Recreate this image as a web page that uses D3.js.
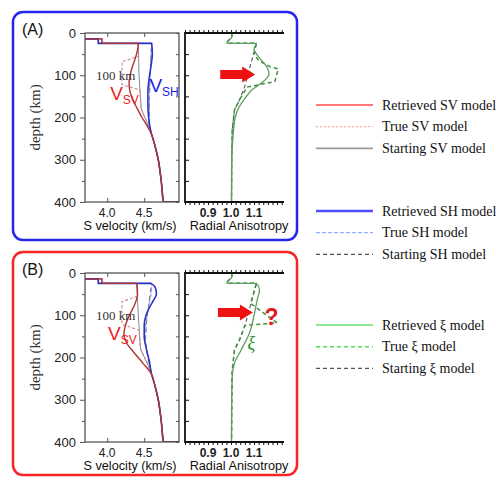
<!DOCTYPE html>
<html>
<head>
<meta charset="utf-8">
<script src="https://cdn.jsdelivr.net/npm/d3@7"></script>
<style>
  body { margin: 0; background: #fff; }
  text { font-family: "Liberation Sans", Arial, sans-serif; }
  .serif { font-family: "Liberation Serif", "Times New Roman", serif; }
</style>
</head>
<body>
<div id="chart"></div>
<script>
// Depth (km) / value pairs
const crustSV = [[0, 3.5], [14, 3.5], [14, 3.93], [24.5, 3.93]];
const crustSH = [[0, 3.5], [14, 3.5], [14, 3.88], [24.5, 3.88]];
const deepVs = [[260, 4.635], [300, 4.69], [350, 4.73], [400, 4.76], [400, 5.1]];
const crustXi = [[0, 1.003], [10, 1.003], [20, 0.985], [24.5, 0.983]];
const deepXi = [[300, 1.003], [400, 1.002]];

// Panel A: Vs models
const svRetrievedA = [[24.5, 4.42], [40, 4.41], [60, 4.38], [80, 4.34], [100, 4.31], [120, 4.295], [140, 4.31], [160, 4.35], [180, 4.41], [200, 4.47], [220, 4.54], [240, 4.6]];
const svTrueA = [[24.5, 4.42], [55, 4.425], [68, 4.2], [122, 4.2], [135, 4.44], [180, 4.46], [215, 4.545], [240, 4.6]];
const svStartA = [[24.5, 4.42], [100, 4.43], [180, 4.46], [215, 4.545], [240, 4.6]];
const shRetrievedA = [[24.5, 4.6], [50, 4.61], [80, 4.59], [110, 4.565], [140, 4.55], [170, 4.55], [200, 4.56], [225, 4.58], [240, 4.6]];
const shTrueA = [[24.5, 4.6], [120, 4.575], [215, 4.565], [240, 4.6]];
const shStartA = [[24.5, 4.6], [120, 4.575], [215, 4.565], [240, 4.6]];
// Panel A: radial anisotropy
const xiRetrievedA = [[24.5, 1.11], [38, 1.1], [60, 1.125], [80, 1.155], [97, 1.165], [115, 1.14], [135, 1.09], [155, 1.06], [175, 1.035], [200, 1.018], [250, 1.008]];
const xiTrueA = [[24.5, 1.11], [50, 1.1], [65, 1.12], [80, 1.17], [85, 1.205], [115, 1.19], [128, 1.07], [158, 1.037], [182, 1.015], [230, 1.005]];
const xiStartA = [[24.5, 1.11], [127, 1.059], [158, 1.037], [182, 1.015], [230, 1.005]];

// Panel B: Vs models
const svRetrievedB = [[24.5, 4.4], [50, 4.41], [75, 4.37], [100, 4.3], [125, 4.245], [145, 4.225], [165, 4.26], [190, 4.37], [215, 4.49], [240, 4.6]];
const svTrueB = [[24.5, 4.4], [55, 4.41], [68, 4.2], [122, 4.2], [135, 4.43], [180, 4.45], [215, 4.545], [240, 4.6]];
const svStartB = [[24.5, 4.4], [100, 4.42], [180, 4.45], [215, 4.545], [240, 4.6]];
const shRetrievedB = [[24.5, 4.59], [35, 4.65], [50, 4.665], [65, 4.625], [80, 4.575], [100, 4.525], [125, 4.5], [150, 4.5], [180, 4.53], [210, 4.57], [240, 4.6]];
const shTrueB = [[24.5, 4.6], [45, 4.6], [80, 4.56], [120, 4.52], [160, 4.51], [200, 4.55], [240, 4.6]];
const shStartB = [[24.5, 4.6], [110, 4.535], [160, 4.515], [200, 4.55], [240, 4.6]];
// Panel B: radial anisotropy
const xiRetrievedB = [[24.5, 1.11], [40, 1.124], [60, 1.115], [95, 1.102], [142, 1.08], [182, 1.044], [213, 1.015], [246, 1.005]];
const xiTrueB = [[24.5, 1.11], [72, 1.085], [118, 1.2], [124, 1.06], [158, 1.037], [182, 1.015], [230, 1.005]];
const xiStartB = [[24.5, 1.11], [127, 1.059], [158, 1.037], [182, 1.015], [230, 1.005]];

// Tick labels
const depthTicks = [0, 100, 200, 300, 400];
const depthMinor = [50, 150, 250, 350];
const velTicks = [4.0, 4.5];
const aniTicks = [0.9, 1.0, 1.1];

// Legend
const legendLabels = ["Retrieved SV model", "True SV model", "Starting SV model",
  "Retrieved SH model", "True SH model", "Starting SH model",
  "Retrieved \u03be model", "True \u03be model", "Starting \u03be model"];
const legendColors = ["#ff4a4a", "#ffaaaa", "#9a9a9a", "#4e4eff", "#8fb0ff", "#555", "#6ee06e", "#55dd55", "#555"];
const legendDash = [null, "2,2", null, null, "4,2", "4,3", null, "4,3", "4,3"];
const legendWidth = [1.3, 1.2, 1.6, 2.5, 1.2, 1.1, 1.3, 1.6, 1.1];

const width = 496, height = 480;
const svg = d3.select("#chart").append("svg")
  .attr("width", width).attr("height", height)
  .style("background", "#fff");

// scales shared by both panels
const y = d3.scaleLinear().domain([0, 400]).range([33, 202]);
const xv = d3.scaleLinear().domain([3.7, 4.97]).range([85, 179]);
const xa = d3.scaleLinear().domain([0.8, 1.23]).range([185, 284]);

const smooth = d3.curveMonotoneY;
const lineV = (c) => d3.line().x(d => xv(d[1])).y(d => y(d[0])).curve(c);
const lineA = (c) => d3.line().x(d => xa(d[1])).y(d => y(d[0])).curve(c);

const panels = [
  { label: "(A)", dy: 0, box: "#2525f0", boxH: 228,
    svRet: svRetrievedA, svTrue: svTrueA, svStart: svStartA,
    shRet: shRetrievedA, shTrue: shTrueA, shStart: shStartA,
    xiRet: xiRetrievedA, xiTrue: xiTrueA, xiStart: xiStartA },
  { label: "(B)", dy: 240, box: "#f52525", boxH: 223,
    svRet: svRetrievedB, svTrue: svTrueB, svStart: svStartB,
    shRet: shRetrievedB, shTrue: shTrueB, shStart: shStartB,
    xiRet: xiRetrievedB, xiTrue: xiTrueB, xiStart: xiStartB }
];

panels.forEach(function (p, i) {
  const g = svg.append("g").attr("transform", `translate(0,${p.dy})`);

  // rounded panel box
  g.append("rect")
    .attr("x", 13).attr("y", 12).attr("width", 284).attr("height", p.boxH)
    .attr("rx", 10).attr("fill", "none")
    .attr("stroke", p.box).attr("stroke-width", 2.5);

  g.append("text").attr("x", 22).attr("y", 35)
    .attr("font-size", 16).attr("fill", "#111").text(p.label);

  // clip paths
  svg.append("clipPath").attr("id", "clipV" + i).append("rect")
    .attr("x", xv.range()[0]).attr("y", y(0)).attr("width", xv.range()[1] - xv.range()[0]).attr("height", y(400) - y(0));
  svg.append("clipPath").attr("id", "clipA" + i).append("rect")
    .attr("x", xa.range()[0]).attr("y", y(0)).attr("width", xa.range()[1] - xa.range()[0]).attr("height", y(400) - y(0));

  // ---- velocity plot ----
  const gv = g.append("g").attr("clip-path", `url(#clipV${i})`);
  const vSeries = [
    { d: crustSH.concat(p.shStart, deepVs), c: "#666", w: 1, dash: "5,3", curve: d3.curveLinear },
    { d: crustSV.concat(p.svStart, deepVs), c: "#8a8a8a", w: 1, dash: null, curve: d3.curveLinear },
    { d: crustSH.concat(p.shTrue, deepVs), c: "#7a98e6", w: 1, dash: "4,2", curve: d3.curveLinear },
    { d: crustSV.concat(p.svTrue, deepVs), c: "#c98a8a", w: 1.1, dash: "3,2", curve: d3.curveLinear },
    { d: crustSH.concat(p.shRet, deepVs), c: "#2a32c8", w: 1.6, dash: null, curve: smooth },
    { d: crustSV.concat(p.svRet, deepVs), c: "#b2332d", w: 1.4, dash: null, curve: smooth }
  ];
  vSeries.forEach(function (s) {
    gv.append("path").datum(s.d)
      .attr("d", lineV(s.curve))
      .attr("fill", "none").attr("stroke", s.c)
      .attr("stroke-width", s.w).attr("stroke-dasharray", s.dash);
  });

  g.append("rect")
    .attr("x", xv.range()[0]).attr("y", y(0))
    .attr("width", xv.range()[1] - xv.range()[0]).attr("height", y(400) - y(0))
    .attr("fill", "none").attr("stroke", "#555").attr("stroke-width", 1.3);

  // depth axis
  const ax = g.append("g").attr("transform", `translate(${xv.range()[0]},0)`)
    .call(d3.axisLeft(y).tickValues(depthTicks).tickSize(5).tickPadding(4).tickFormat(d3.format("d")));
  ax.select(".domain").remove();
  ax.selectAll("line").attr("stroke", "#555");
  ax.selectAll("text").attr("font-size", 13).attr("fill", "#222")
    .attr("font-family", '"Liberation Sans", Arial, sans-serif');
  g.append("g").attr("transform", `translate(${xv.range()[0]},0)`)
    .call(d3.axisLeft(y).tickValues(depthMinor).tickSize(3).tickFormat(""))
    .call(a => a.select(".domain").remove())
    .selectAll("line").attr("stroke", "#555");

  // inward ticks on right edge of velocity plot
  g.append("g").attr("transform", `translate(${xv.range()[1]},0)`)
    .call(d3.axisRight(y).tickValues(depthTicks.concat(depthMinor)).tickSize(-3).tickFormat(""))
    .call(a => a.select(".domain").remove())
    .selectAll("line").attr("stroke", "#555");
  // inward ticks on top and bottom
  g.append("g").attr("transform", `translate(0,${y(0)})`)
    .call(d3.axisTop(xv).tickValues(velTicks).tickSize(-4).tickFormat(""))
    .call(a => a.select(".domain").remove())
    .selectAll("line").attr("stroke", "#555");
  g.append("g").attr("transform", `translate(0,${y(400)})`)
    .call(d3.axisBottom(xv).tickValues(velTicks).tickSize(-4).tickFormat(""))
    .call(a => a.select(".domain").remove())
    .selectAll("line").attr("stroke", "#555");

  g.selectAll(".vtick").data(velTicks).enter().append("text")
    .attr("x", d => xv(d)).attr("y", 217)
    .attr("text-anchor", "middle").attr("font-size", 12).attr("fill", "#222")
    .text(d => d.toFixed(1));

  g.append("text").attr("x", 130).attr("y", 229.5)
    .attr("text-anchor", "middle").attr("font-size", 12.7).attr("fill", "#111")
    .text("S velocity (km/s)");

  g.append("text").attr("class", "serif")
    .attr("transform", `translate(40,${(y(0) + y(400)) / 2}) rotate(-90)`)
    .attr("text-anchor", "middle").attr("font-size", 15).attr("fill", "#333")
    .text("depth (km)");

  // annotations in the velocity plot
  g.append("text").attr("class", "serif")
    .attr("x", xv(3.85)).attr("y", y(111))
    .attr("font-size", 13).attr("fill", "#333").text("100 km");

  const vsv = g.append("text").attr("x", i === 0 ? xv(4.04) : xv(4.01)).attr("y", y(158.6))
    .attr("fill", "#ee1c1c").attr("font-size", 19);
  vsv.append("tspan").text("V");
  vsv.append("tspan").attr("font-size", 12).attr("dy", 4).text("SV");

  if (i === 0) {
    const vsh = g.append("text").attr("x", xv(4.57)).attr("y", y(139.6))
      .attr("fill", "#1c1ce8").attr("font-size", 19);
    vsh.append("tspan").text("V");
    vsh.append("tspan").attr("font-size", 12).attr("dy", 4).text("SH");
  }

  // ---- anisotropy plot ----
  const ga = g.append("g").attr("clip-path", `url(#clipA${i})`);
  const aSeries = [
    { d: crustXi.concat(p.xiStart, deepXi), c: "#555", w: 1.1, dash: "4,3", curve: d3.curveLinear },
    { d: crustXi.concat(p.xiTrue, deepXi), c: "#3f8f3f", w: 1.5, dash: "4,3", curve: d3.curveLinear },
    { d: crustXi.concat(p.xiRet, deepXi), c: "#5e9e5e", w: 1.3, dash: null, curve: smooth }
  ];
  aSeries.forEach(function (s) {
    ga.append("path").datum(s.d)
      .attr("d", lineA(s.curve))
      .attr("fill", "none").attr("stroke", s.c)
      .attr("stroke-width", s.w).attr("stroke-dasharray", s.dash);
  });

  // open-sided frame: top, left and bottom only
  const fx0 = xa.range()[0], fx1 = xa.range()[1];
  g.append("path")
    .attr("d", `M${fx1},${y(0)}H${fx0}V${y(400)}H${fx1}`)
    .attr("fill", "none").attr("stroke", "#111").attr("stroke-width", 1.8);

  const fine = d3.range(0.8, 1.231, 0.02);
  g.append("g").attr("transform", `translate(0,${y(0)})`)
    .call(d3.axisTop(xa).tickValues(fine).tickSize(3).tickFormat(""))
    .call(a => a.select(".domain").remove())
    .selectAll("line").attr("stroke", "#111");
  g.append("g").attr("transform", `translate(0,${y(400)})`)
    .call(d3.axisBottom(xa).tickValues(fine).tickSize(3).tickFormat(""))
    .call(a => a.select(".domain").remove())
    .selectAll("line").attr("stroke", "#111");
  g.append("g").attr("transform", `translate(${fx0},0)`)
    .call(d3.axisLeft(y).tickValues(depthTicks.concat(depthMinor)).tickSize(-4).tickFormat(""))
    .call(a => a.select(".domain").remove())
    .selectAll("line").attr("stroke", "#111");

  g.selectAll(".atick").data(aniTicks).enter().append("text")
    .attr("x", d => xa(d)).attr("y", 217)
    .attr("text-anchor", "middle").attr("font-size", 12).attr("font-weight", "bold").attr("fill", "#222")
    .text(d => d.toFixed(1));

  g.append("text").attr("x", 239).attr("y", 229.5)
    .attr("text-anchor", "middle").attr("font-size", 12.7).attr("fill", "#111")
    .text("Radial Anisotropy");

  // red arrow pointing at the anisotropic layer
  const tipX = i === 0 ? xa(1.105) : xa(1.095);
  const tailX = tipX - 35;
  const ay = i === 0 ? y(98) : y(93.5);
  const arrow = [[tailX, ay - 4.5], [tipX - 13, ay - 4.5], [tipX - 13, ay - 8], [tipX, ay],
    [tipX - 13, ay + 8], [tipX - 13, ay + 4.5], [tailX, ay + 4.5]];
  g.append("path").attr("d", d3.line()(arrow) + "Z").attr("fill", "#ee1111");

  if (i === 1) {
    g.append("text").attr("x", xa(1.145)).attr("y", y(123))
      .attr("font-size", 23).attr("font-weight", "bold").attr("fill", "#e51b1b").text("?");
    g.append("text").attr("class", "serif").attr("x", xa(1.072)).attr("y", y(180))
      .attr("font-size", 18).attr("font-style", "italic").attr("fill", "#2a8a2a").text("\u03be");
  }
});

// ---- legend ----
const groupY = [105, 211, 325];
const leg = svg.append("g");
legendLabels.forEach(function (lab, k) {
  const ly = groupY[Math.floor(k / 3)] + (k % 3) * 21.7;
  leg.append("line")
    .attr("x1", 316).attr("x2", 373).attr("y1", ly).attr("y2", ly)
    .attr("stroke", legendColors[k]).attr("stroke-width", legendWidth[k])
    .attr("stroke-dasharray", legendDash[k]);
  leg.append("text").attr("class", "serif")
    .attr("x", 382).attr("y", ly + 4.5)
    .attr("font-size", 14).attr("fill", "#111").text(lab);
});
</script>
</body>
</html>
